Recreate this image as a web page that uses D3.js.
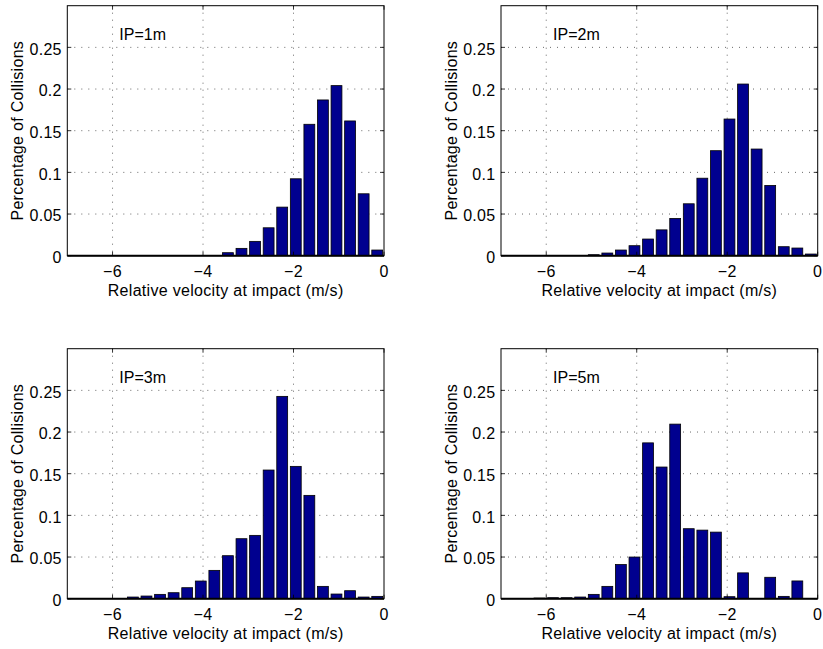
<!DOCTYPE html>
<html>
<head>
<meta charset="utf-8">
<script src="https://cdn.jsdelivr.net/npm/d3@7"></script>
<style>
  html, body { margin: 0; padding: 0; background: #fff; }
  svg { display: block; font-family: "Liberation Sans", Arial, Helvetica, sans-serif; }
</style>
</head>
<body>
<svg id="chart" width="823" height="649"></svg>
<script>
// ---- data ----
const binCenters = [-6.75, -6.45, -6.15, -5.85, -5.55, -5.25, -4.95, -4.65, -4.35, -4.05,
  -3.75, -3.45, -3.15, -2.85, -2.55, -2.25, -1.95, -1.65, -1.35, -1.05, -0.75, -0.45, -0.15];
const panelTitles = ["IP=1m", "IP=2m", "IP=3m", "IP=5m"];
const valuesIP1 = [0, 0, 0, 0, 0, 0, 0, 0, 0, 0, 0,
  0.0036, 0.0088, 0.0172, 0.0335, 0.0583, 0.0923, 0.1577, 0.1869, 0.2041, 0.1617, 0.0743, 0.0068];
const valuesIP2 = [0, 0, 0, 0, 0, 0,
  0.0012, 0.0032, 0.0068, 0.012, 0.020, 0.031, 0.0447, 0.0623, 0.093, 0.126, 0.164, 0.206, 0.128, 0.0843, 0.0108, 0.0092, 0.002];
const valuesIP3 = [0, 0, 0, 0,
  0.002, 0.0032, 0.0052, 0.0072, 0.0132, 0.0212, 0.034, 0.0516, 0.072, 0.076, 0.1544, 0.2428, 0.1588, 0.124, 0.0148, 0.0056, 0.0096, 0.002, 0.0028];
const valuesIP5 = [0, 0,
  0.0008, 0.0012, 0.0012, 0.002, 0.0052, 0.0148, 0.041, 0.050, 0.187, 0.158, 0.2095, 0.084, 0.0823, 0.0799, 0.0024, 0.031, 0, 0.0257, 0.0028, 0.0213, 0];
const xTicks = [-6, -4, -2, 0];
const yTicks = [0, 0.05, 0.1, 0.15, 0.2, 0.25];
const xLabel = "Relative velocity at impact (m/s)";
const yLabel = "Percentage of Collisions";
const binWidth = 0.3;

const seriesList = [valuesIP1, valuesIP2, valuesIP3, valuesIP5];

// ---- layout ----
const svg = d3.select("#chart");
const axW = 316.7, axH = 250;
const origins = [[67.3, 5.7], [501, 5.7], [67.3, 348.7], [501, 348.7]];
const fs = 16;
const ls = "0.3px";
const fmtY = d => d === 0 ? "0" : String(d);
const fmtX = d => d < 0 ? "\u2212" + Math.abs(d) : String(d);

seriesList.forEach((vals, i) => {
  const [ox, oy] = origins[i];
  const g = svg.append("g").attr("transform", `translate(${ox},${oy})`);
  const x = d3.scaleLinear().domain([-7, 0]).range([0, axW]);
  const y = d3.scaleLinear().domain([0, 0.3]).range([axH, 0]);

  const clipId = "clip" + i;
  g.append("clipPath").attr("id", clipId)
    .append("rect").attr("x", 0).attr("y", 0).attr("width", axW).attr("height", axH);

  // grid
  const grid = g.append("g").attr("stroke", "#444").attr("stroke-width", 0.8)
    .attr("stroke-dasharray", "1,6");
  grid.selectAll("line.vx").data(xTicks.filter(t => t > -7 && t < 0)).join("line")
    .attr("x1", d => x(d)).attr("x2", d => x(d)).attr("y1", 0).attr("y2", axH);
  grid.selectAll("line.hy").data(yTicks.filter(t => t > 0)).join("line")
    .attr("x1", 0).attr("x2", axW).attr("y1", d => y(d)).attr("y2", d => y(d));

  // bars
  const data = binCenters.map((c, j) => ({ c, v: vals[j] }));
  g.append("g").attr("clip-path", `url(#${clipId})`)
    .selectAll("rect").data(data.filter(d => d.v > 0)).join("rect")
    .attr("x", d => x(d.c - binWidth * 0.4))
    .attr("width", d => x(d.c + binWidth * 0.4) - x(d.c - binWidth * 0.4))
    .attr("y", d => y(d.v))
    .attr("height", d => y(0) - y(d.v))
    .attr("fill", "#00008f")
    .attr("stroke", "#000")
    .attr("stroke-width", 0.8);

  // ticks (inward)
  const tk = g.append("g").attr("stroke", "#000").attr("stroke-width", 0.8);
  xTicks.forEach(t => {
    tk.append("line").attr("x1", x(t)).attr("x2", x(t)).attr("y1", axH).attr("y2", axH - 4);
    tk.append("line").attr("x1", x(t)).attr("x2", x(t)).attr("y1", 0).attr("y2", 4);
  });
  yTicks.forEach(t => {
    tk.append("line").attr("x1", 0).attr("x2", 4).attr("y1", y(t)).attr("y2", y(t));
    tk.append("line").attr("x1", axW).attr("x2", axW - 4).attr("y1", y(t)).attr("y2", y(t));
  });

  // box
  g.append("rect").attr("x", 0).attr("y", 0).attr("width", axW).attr("height", axH)
    .attr("fill", "none").attr("stroke", "#000").attr("stroke-width", 1);
  // baseline
  g.append("line").attr("x1", 0).attr("x2", axW).attr("y1", y(0)).attr("y2", y(0))
    .attr("stroke", "#000").attr("stroke-width", 2);

  // tick labels
  g.append("g").selectAll("text").data(yTicks).join("text")
    .attr("x", -5.5).attr("y", d => y(d) + 7.4)
    .attr("text-anchor", "end").attr("font-size", fs).attr("letter-spacing", ls).attr("fill", "#000")
    .text(fmtY);
  g.append("g").selectAll("text").data(xTicks).join("text")
    .attr("x", d => x(d)).attr("y", axH + 21.8)
    .attr("text-anchor", "middle").attr("font-size", fs).attr("letter-spacing", ls).attr("fill", "#000")
    .text(fmtX);

  // axis labels
  g.append("text").attr("x", axW / 2).attr("y", axH + 40.5)
    .attr("text-anchor", "middle").attr("font-size", fs).attr("letter-spacing", ls).attr("fill", "#000")
    .text(xLabel);
  g.append("text")
    .attr("transform", `translate(-44,${axH / 2}) rotate(-90)`)
    .attr("text-anchor", "middle").attr("font-size", fs).attr("letter-spacing", ls).attr("fill", "#000")
    .text(yLabel);

  // panel annotation
  g.append("text").attr("x", x(-5.85)).attr("y", y(0.266) + 6)
    .attr("font-size", fs).attr("fill", "#000")
    .text(panelTitles[i]);
});
</script>
</body>
</html>
